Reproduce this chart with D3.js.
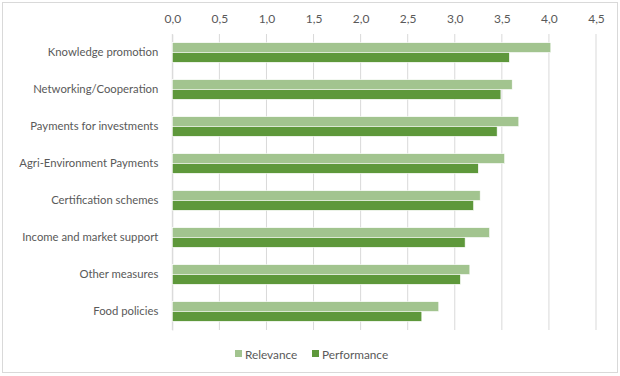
<!DOCTYPE html>
<html>
<head>
<meta charset="utf-8">
<script src="https://cdn.jsdelivr.net/npm/d3@7"></script>
<style>
  body { margin: 0; background: #fff; }
  text { font-family: Lato, "Open Sans", sans-serif; fill: #595959; }
</style>
</head>
<body>
<div id="chart"></div>
<script>
// categories (top to bottom) and the two series
const categories = ["Knowledge promotion", "Networking/Cooperation", "Payments for investments",
  "Agri-Environment Payments", "Certification schemes", "Income and market support",
  "Other measures", "Food policies"];
const relevance = [4.02, 3.61, 3.68, 3.53, 3.27, 3.37, 3.16, 2.83];
const performance = [3.58, 3.49, 3.45, 3.25, 3.20, 3.11, 3.06, 2.65];
const tickValues = [0, 0.5, 1, 1.5, 2, 2.5, 3, 3.5, 4, 4.5];
const seriesNames = ["Relevance", "Performance"];

const colors = {Relevance: "#a2c48f", Performance: "#5e983b"};

const W = 620, H = 376;
const margin = {top: 34, right: 24, bottom: 46, left: 172.3};
const width = W - margin.left - margin.right,
      height = H - margin.top - margin.bottom;

const svg = d3.select("#chart").append("svg")
  .attr("width", W).attr("height", H);

// outer border like the spreadsheet chart area
svg.append("rect")
  .attr("x", 2.5).attr("y", 2.5)
  .attr("width", 615).attr("height", 370)
  .attr("fill", "none").attr("stroke", "#d9d9d9");

const g = svg.append("g").attr("transform", `translate(${margin.left},${margin.top})`);

const x = d3.scaleLinear().domain([0, 4.5]).range([0, width]);
const y = d3.scaleBand().domain(categories).range([0, height]).paddingInner(0.47).paddingOuter(0.235);
const ySub = d3.scaleBand().domain(seriesNames).range([0, y.bandwidth()]);

// gridlines
g.append("g").selectAll("line")
  .data(tickValues)
  .join("line")
    .attr("x1", d => x(d)).attr("x2", d => x(d))
    .attr("y1", 0).attr("y2", height)
    .attr("stroke", "#d9d9d9");

// top axis labels
const fmt = d => d3.format(".1f")(d).replace(".", ",");
const xAxis = g.append("g")
  .call(d3.axisTop(x).tickValues(tickValues).tickFormat(fmt).tickSize(0).tickPadding(11));
xAxis.select(".domain").remove();
xAxis.selectAll("text").style("font-size", "12px").attr("fill", "#595959");

// left axis labels
const yAxis = g.append("g")
  .call(d3.axisLeft(y).tickSize(0).tickPadding(14));
yAxis.select(".domain").attr("stroke", "#d9d9d9");
yAxis.selectAll("text").style("font-size", "11.3px").attr("fill", "#595959");

// bars
const rows = categories.map((c, i) => ({cat: c, Relevance: relevance[i], Performance: performance[i]}));
const grp = g.append("g").selectAll("g")
  .data(rows)
  .join("g")
    .attr("transform", d => `translate(0,${y(d.cat)})`);

grp.selectAll("rect")
  .data(d => seriesNames.map(s => ({key: s, value: d[s]})))
  .join("rect")
    .attr("x", x(0))
    .attr("y", d => ySub(d.key))
    .attr("width", d => x(d.value) - x(0))
    .attr("height", ySub.bandwidth())
    .attr("fill", d => colors[d.key])
    .attr("stroke", "#fff")
    .attr("stroke-width", 0.6);

// legend
const legend = svg.append("g").attr("transform", "translate(235,354)");
const lx = [0, 77];
seriesNames.forEach((s, i) => {
  const item = legend.append("g").attr("transform", `translate(${lx[i]},0)`);
  item.append("rect").attr("x", 0).attr("y", -4).attr("width", 7).attr("height", 7).attr("fill", colors[s]);
  item.append("text").attr("x", 10).attr("y", 4.5).style("font-size", "11.8px").text(s);
});
</script>
</body>
</html>
